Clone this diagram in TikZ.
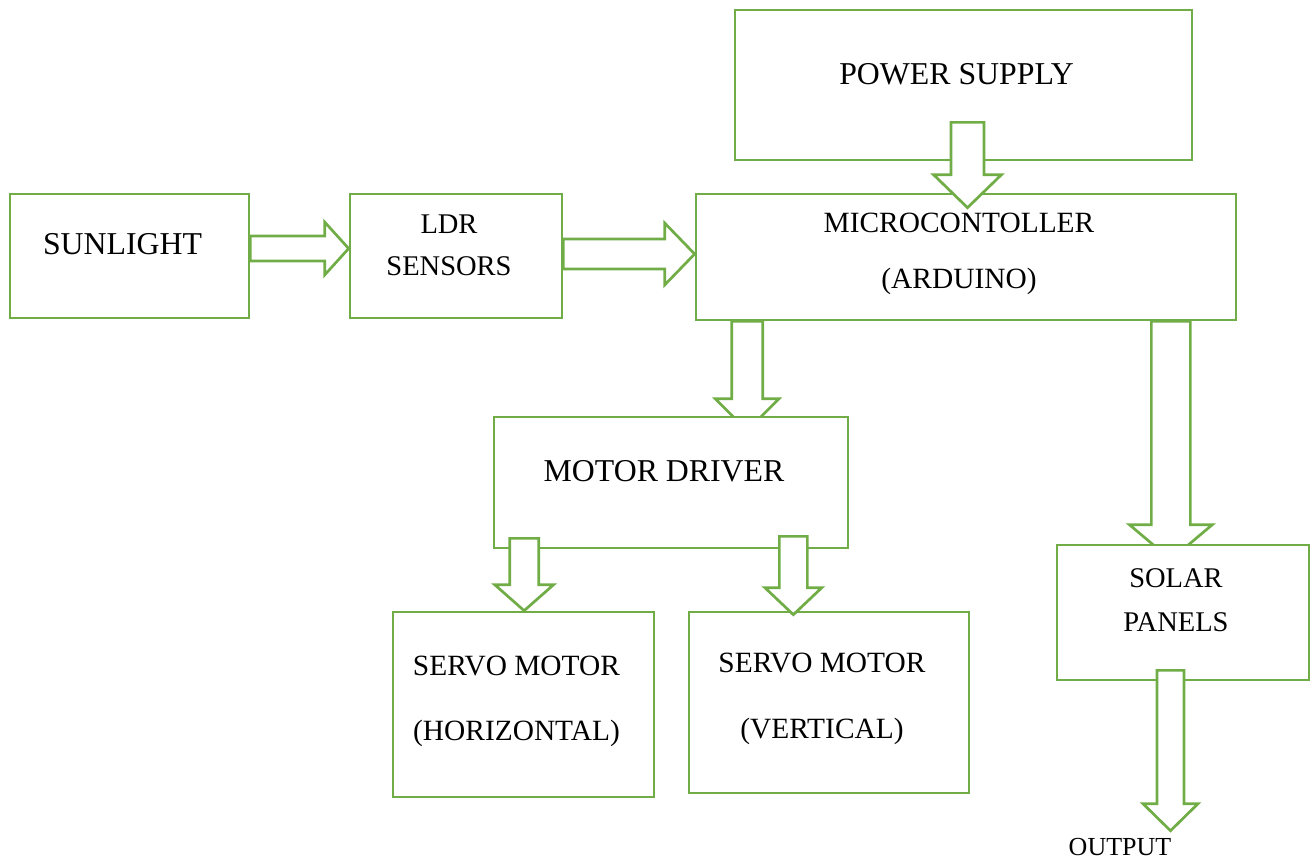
\documentclass[tikz,border=0pt]{standalone}
\usepackage{fontspec}
\setmainfont{Liberation Serif}
\usetikzlibrary{calc,positioning,backgrounds}
\definecolor{boxgreen}{RGB}{112,173,71}
\newcommand{\lpad}{\hspace*{7pt}}
\tikzset{
  blk/.style={draw=boxgreen, line width=1.35pt, fill=white, inner sep=0pt, align=center},
  fat/.style={draw=boxgreen, line width=1.35pt, fill=white, line join=miter},
  big/.style={font=\fontsize{15.9}{19}\selectfont},
  mid/.style={font=\fontsize{14.25}{#1}\selectfont},
  wide/.style={font=\fontsize{14.7}{#1}\selectfont},
}
% hollow block arrows: start, end, shaft half width, head half width, head length
\newcommand{\fatright}[5]{%
  \draw[fat] let \p1=(#1), \p2=(#2) in
    (\x1,\y1-#3) -- (\x2-#5,\y1-#3) -- (\x2-#5,\y1-#4) -- (\x2,\y1)
    -- (\x2-#5,\y1+#4) -- (\x2-#5,\y1+#3) -- (\x1,\y1+#3) -- cycle;}
\newcommand{\fatdown}[5]{%
  \draw[fat] let \p1=(#1), \p2=(#2) in
    (\x1-#3,\y1) -- (\x1-#3,\y2+#5) -- (\x1-#4,\y2+#5) -- (\x1,\y2)
    -- (\x1+#4,\y2+#5) -- (\x1+#3,\y2+#5) -- (\x1+#3,\y1) -- cycle;}

\begin{document}
\begin{tikzpicture}[x=0.5pt, y=0.5pt]
  \useasboundingbox (0,0) rectangle (1314,-858);
  \node[blk, big, minimum width=119.5pt, minimum height=62pt, text depth=12pt] (sun) at (129.5,-256) {SUNLIGHT\lpad};
  \node[blk, mid=21pt, minimum width=106pt, minimum height=62pt, text depth=11pt] (ldr) at (456,-256) {LDR\lpad\\SENSORS\lpad};
  \node[blk, big, minimum width=228.5pt, minimum height=75pt, text depth=11pt] (power) at (963.5,-85) {POWER SUPPLY\lpad};
  \node[blk, wide=28pt, minimum width=270pt, minimum height=63pt, text depth=6pt] (mc) at (966,-257) {MICROCONTOLLER\lpad\\(ARDUINO)\lpad};
  \node[blk, big, minimum width=177pt, minimum height=65.5pt, text depth=11.5pt] (md) at (671,-482.5) {MOTOR DRIVER\lpad};
  \node[blk, wide=32.5pt, minimum width=130.5pt, minimum height=92.5pt, text depth=6.5pt] (sh) at (523.5,-704.5) {SERVO MOTOR\lpad\\(HORIZONTAL)\lpad};
  \node[blk, wide=33pt, minimum width=140pt, minimum height=90.5pt, text depth=7pt] (sv) at (829,-702.5) {SERVO MOTOR\lpad\\(VERTICAL)\lpad};
  \node[blk, mid=22pt, minimum width=126pt, minimum height=67.5pt, text depth=12.5pt] (solar) at (1183,-612.5) {SOLAR\lpad\\PANELS\lpad};
  \node[font=\fontsize{13}{15}\selectfont, anchor=base] (out) at (1120,-855) {OUTPUT};

  \begin{scope}[on background layer]
    \fatright{$(sun.east)+(0,7.5)$}{ldr.west}{6.25pt}{13.25pt}{12pt}
    \fatright{$(ldr.east)+(0,2)$}{mc.west}{7.5pt}{15.5pt}{15pt}
    \fatdown{$(mc.south west)+(52.5,0)$}{$(md.north)+(0,-15)$}{7.75pt}{16pt}{16pt}
    \fatdown{$(mc.south east)+(-66.5,0)$}{$(solar.north)+(0,-16)$}{9.75pt}{20.75pt}{17.5pt}
  \end{scope}
  \fatdown{$(power.south)+(4,39)$}{$(mc.north)+(0,-15)$}{8.25pt}{17pt}{16.5pt}
  \fatdown{$(md.south west)+(31.5,11)$}{sh.north}{7.25pt}{14.75pt}{13pt}
  \fatdown{$(md.south east)+(-56,13)$}{$(sv.north)+(0,-4)$}{7pt}{14.25pt}{13.5pt}
  \fatdown{$(solar.south)+(-12.5,11)$}{out.north}{6.75pt}{13.75pt}{13.5pt}
\end{tikzpicture}
\end{document}
